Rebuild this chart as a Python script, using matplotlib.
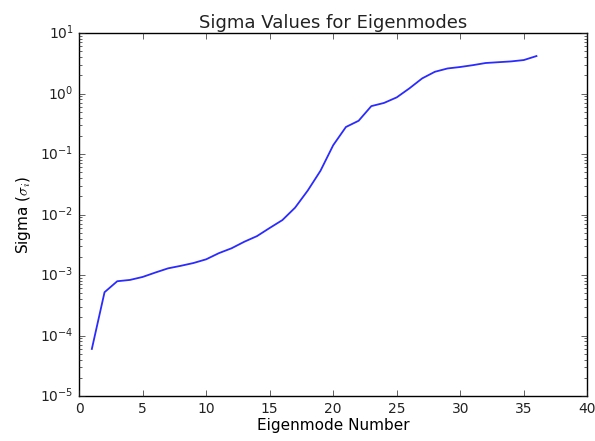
import matplotlib
matplotlib.use("Agg")
import matplotlib.pyplot as plt
import numpy as np

# singular values per eigenmode
modes = np.arange(1, 37)
sigma = [6.0e-5, 5.2e-4, 7.9e-4, 8.3e-4, 9.3e-4, 1.1e-3, 1.29e-3, 1.42e-3, 1.58e-3,
         1.82e-3, 2.3e-3, 2.77e-3, 3.55e-3, 4.4e-3, 6.0e-3, 8.1e-3, 1.3e-2, 2.5e-2,
         5.3e-2, 1.4e-1, 2.8e-1, 3.55e-1, 6.2e-1, 7.0e-1, 8.65e-1, 1.22, 1.78, 2.29,
         2.6, 2.75, 2.95, 3.2, 3.3, 3.4, 3.58, 4.17]

plt.style.use("classic")
plt.rcParams["font.size"] = 10
plt.rcParams["text.color"] = "#222222"
plt.rcParams["xtick.color"] = "#222222"
plt.rcParams["ytick.color"] = "#222222"

fig = plt.figure(figsize=(5.95, 4.41), dpi=100)
ax = fig.add_axes([0.133, 0.102, 0.854, 0.823])
ax.semilogy(modes, sigma, color="#2b2bff", lw=1.3)

ax.set_xlim(0, 40)
ax.set_ylim(1e-5, 1e1)
ax.set_title("Sigma Values for Eigenmodes", fontsize=13, pad=4)
ax.set_xlabel("Eigenmode Number", fontsize=11, labelpad=2)
ax.set_ylabel(r"Sigma ($\sigma_i$)", fontsize=11)
ax.tick_params(labelsize=10)

fig.savefig("out.png", dpi=100, facecolor="white")
